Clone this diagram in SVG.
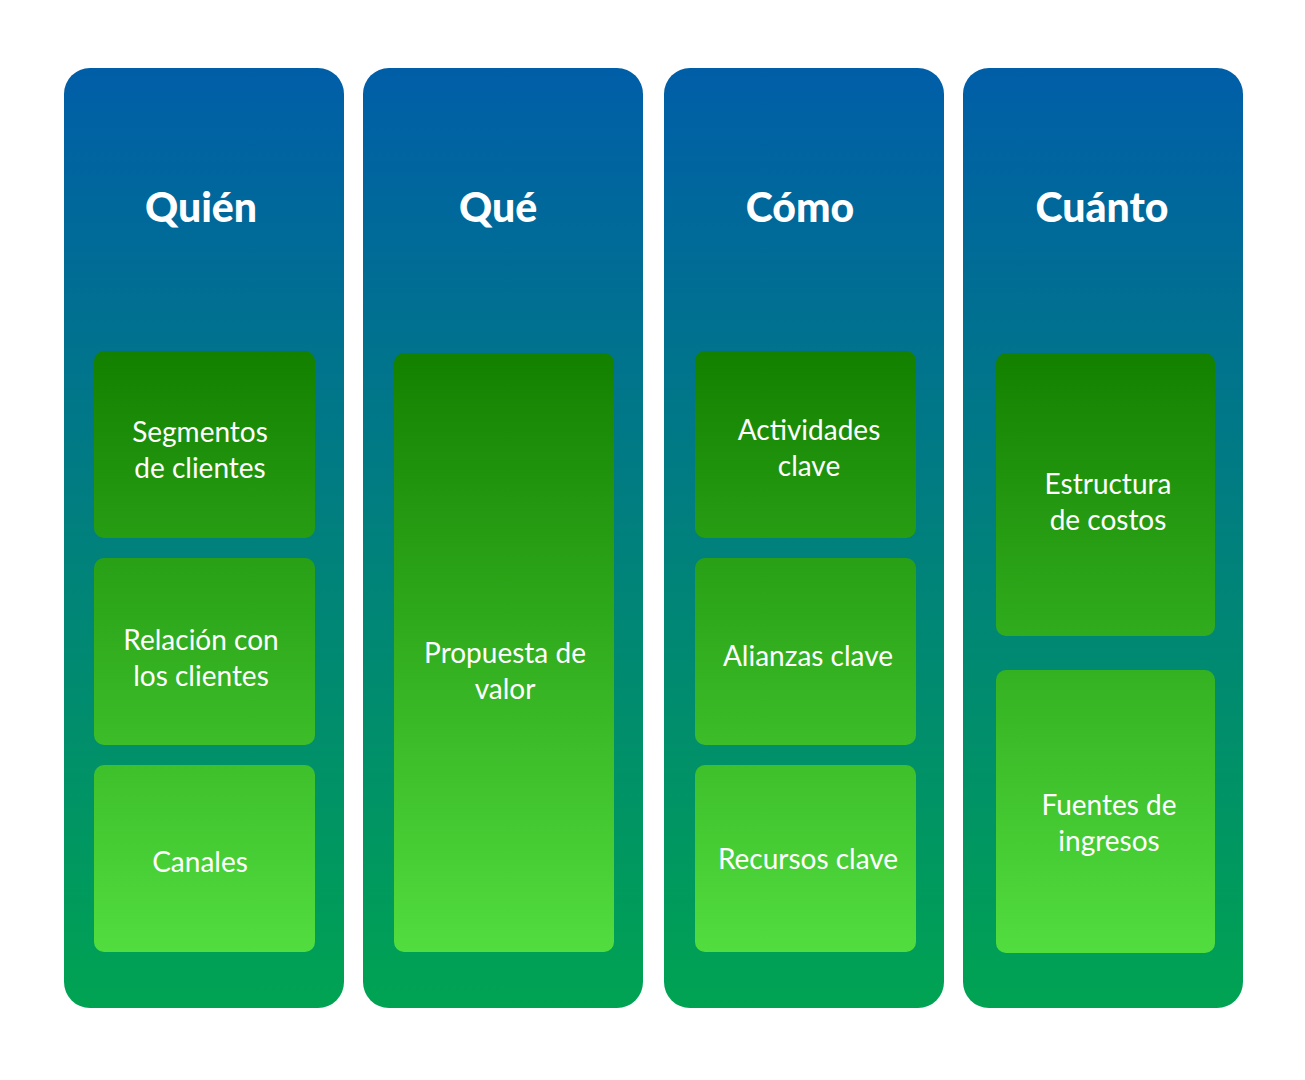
<svg xmlns="http://www.w3.org/2000/svg" width="1305" height="1080" viewBox="0 0 1305 1080">
<defs>
<linearGradient id="colg" gradientUnits="userSpaceOnUse" x1="0" y1="68" x2="0" y2="1008">
<stop offset="0" stop-color="#005ea8"/>
<stop offset="1" stop-color="#00a352"/>
</linearGradient>
<linearGradient id="boxg" gradientUnits="userSpaceOnUse" x1="0" y1="351" x2="0" y2="953">
<stop offset="0" stop-color="#138000"/>
<stop offset="1" stop-color="#52dd3f"/>
</linearGradient>
<style>
.col{fill:url(#colg)}
.box{fill:url(#boxg)}
.title{font-family:Lato,"Open Sans","Liberation Sans",sans-serif;font-weight:900;font-size:41px;fill:#fff;text-anchor:middle}
.lbl{font-family:Lato,"Open Sans","Liberation Sans",sans-serif;font-size:28px;fill:#fff;text-anchor:middle}
</style>
</defs>
<rect width="1305" height="1080" fill="#fff"/>
<g id="col-quien">
<rect class="col" x="64" y="68" width="280" height="940" rx="26"/>
<text class="title" x="201" y="222">Quién</text>
</g>
<g id="col-que">
<rect class="col" x="363" y="68" width="280" height="940" rx="26"/>
<text class="title" x="498" y="222">Qué</text>
</g>
<g id="col-como">
<rect class="col" x="664" y="68" width="280" height="940" rx="26"/>
<text class="title" x="800" y="222">Cómo</text>
</g>
<g id="col-cuanto">
<rect class="col" x="963" y="68" width="280" height="940" rx="26"/>
<text class="title" x="1102" y="222">Cuánto</text>
</g>
<g id="segmentos">
<rect class="box" x="94" y="351" width="221" height="187" rx="10"/>
<text class="lbl" x="200" y="442">Segmentos</text>
<text class="lbl" x="200" y="478">de clientes</text>
</g>
<g id="relacion">
<rect class="box" x="94" y="558" width="221" height="187" rx="10"/>
<text class="lbl" x="201" y="650">Relación con</text>
<text class="lbl" x="201" y="686">los clientes</text>
</g>
<g id="canales">
<rect class="box" x="94" y="765" width="221" height="187" rx="10"/>
<text class="lbl" x="200" y="872">Canales</text>
</g>
<g id="propuesta">
<rect class="box" x="394" y="353" width="220" height="599" rx="10"/>
<text class="lbl" x="505" y="663">Propuesta de</text>
<text class="lbl" x="505" y="699">valor</text>
</g>
<g id="actividades">
<rect class="box" x="695" y="351" width="221" height="187" rx="10"/>
<text class="lbl" x="809" y="440">Actividades</text>
<text class="lbl" x="809" y="476">clave</text>
</g>
<g id="alianzas">
<rect class="box" x="695" y="558" width="221" height="187" rx="10"/>
<text class="lbl" x="808" y="666">Alianzas clave</text>
</g>
<g id="recursos">
<rect class="box" x="695" y="765" width="221" height="187" rx="10"/>
<text class="lbl" x="808" y="869">Recursos clave</text>
</g>
<g id="estructura">
<rect class="box" x="996" y="353" width="219" height="283" rx="10"/>
<text class="lbl" x="1108" y="494">Estructura</text>
<text class="lbl" x="1108" y="530">de costos</text>
</g>
<g id="fuentes">
<rect class="box" x="996" y="670" width="219" height="283" rx="10"/>
<text class="lbl" x="1109" y="815">Fuentes de</text>
<text class="lbl" x="1109" y="851">ingresos</text>
</g>
<g id="connectors"/>
</svg>
